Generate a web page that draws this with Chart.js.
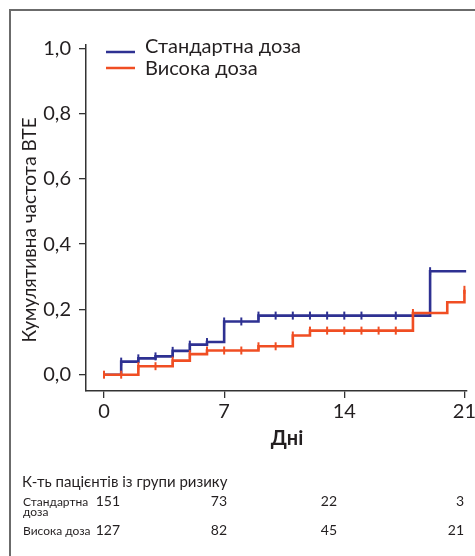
<!DOCTYPE html>
<html>
<head>
<meta charset="utf-8">
<script src="https://cdn.jsdelivr.net/npm/chart.js@4.4.1/dist/chart.umd.min.js"></script>
<style>
  html, body { margin: 0; padding: 0; background: #fff; }
  #wrap { position: relative; width: 475px; height: 556px; }
  #frame { position: absolute; left: 9px; top: 9px; right: 0; bottom: 0;
           border-top: 2px solid #6b6b6b; border-left: 2px solid #6b6b6b; }
  canvas { position: absolute; left: 0; top: 0; }
</style>
</head>
<body>
<div id="wrap">
  <div id="frame"></div>
  <canvas id="km" width="475" height="556"></canvas>
</div>
<script>
// ===== Data =====
const xTicks = [0, 7, 14, 21];
const yTicks = [0, 0.2, 0.4, 0.6, 0.8, 1.0];

// Стандартна доза: step times (days) and cumulative frequency after each step
const stdTimes  = [0, 1, 2, 3, 4, 5, 6, 7, 9, 19, 21.1];
const stdValues = [0, 0.04, 0.05, 0.056, 0.073, 0.092, 0.10, 0.163, 0.181, 0.317, 0.317];
const stdCensor = [1, 2, 3, 4, 5, 6, 7, 8, 9, 10, 11, 12, 13, 14, 15, 17, 19];

// Висока доза
const highTimes  = [0, 2, 4, 5, 6, 9, 11, 12, 18, 20, 21];
const highValues = [0, 0.026, 0.043, 0.063, 0.074, 0.087, 0.12, 0.135, 0.189, 0.222, 0.26];
const highCensor = [0, 1, 2, 3, 4, 5, 6, 7, 8, 9, 10, 11, 12, 13, 14, 15, 16, 17, 18, 21];

// Number at risk
const riskDays  = [0, 7, 14, 21];
const riskStd   = [151, 73, 22, 3];
const riskHigh  = [127, 82, 45, 21];

const seriesLabels = ['Стандартна доза', 'Висока доза'];
const BLUE = '#2e3192';
const RED = '#f04e23';
const FONT = 'Lato, "DejaVu Sans", sans-serif';
const TEXT = '#231f20';

// value of the step curve at time t (no interpolation, just the last step)
function stepValue(times, values, t) {
    let v = values[0];
    for (let i = 0; i < times.length; i++) {
        if (times[i] <= t) v = values[i];
    }
    return v;
}

function toPoints(times, values) {
    return times.map((t, i) => ({ x: t, y: values[i] }));
}

function censorPoints(censor, times, values) {
    return censor.map(t => ({ x: t, y: stepValue(times, values, t) }));
}

function fmt(v) {
    return v.toFixed(1).replace('.', ',');
}

// ===== Extra drawing: titles, legend, risk table =====
const decorPlugin = {
    id: 'decor',
    afterDraw(chart) {
        const ctx = chart.ctx;
        ctx.save();
        ctx.fillStyle = TEXT;

        // y axis title
        ctx.save();
        ctx.translate(30, 230);
        ctx.rotate(-Math.PI / 2);
        ctx.font = '19px ' + FONT;
        ctx.textAlign = 'center';
        ctx.textBaseline = 'middle';
        ctx.fillText('Кумулятивна частота ВТЕ', 0, 0);
        ctx.restore();

        // x axis title
        ctx.font = 'bold 20px ' + FONT;
        ctx.textAlign = 'center';
        ctx.textBaseline = 'alphabetic';
        ctx.fillText('Дні', 287, 445);

        // legend
        const legendColors = [BLUE, RED];
        const legendY = [52, 68];
        const legendBase = [53, 75];
        ctx.font = '20px ' + FONT;
        ctx.textAlign = 'left';
        seriesLabels.forEach((lab, i) => {
            ctx.strokeStyle = legendColors[i];
            ctx.lineWidth = 2.5;
            ctx.beginPath();
            ctx.moveTo(106, legendY[i]);
            ctx.lineTo(135, legendY[i]);
            ctx.stroke();
            ctx.fillStyle = TEXT;
            ctx.fillText(lab, 145, legendBase[i]);
        });

        // risk table
        ctx.font = '15px ' + FONT;
        ctx.fillText('К-ть пацієнтів із групи ризику', 22, 487);
        ctx.font = '12px ' + FONT;
        ctx.fillText('Стандартна', 23, 506);
        ctx.fillText('доза', 23, 516);
        ctx.fillText('Висока доза', 23, 535);

        const colRight = [120, 227, 337, 464];
        ctx.font = '14px ' + FONT;
        ctx.textAlign = 'right';
        riskDays.forEach((d, i) => {
            ctx.fillText(String(riskStd[i]), colRight[i], 506);
            ctx.fillText(String(riskHigh[i]), colRight[i], 535);
        });
        ctx.restore();
    }
};

const ctx = document.getElementById('km');

new Chart(ctx, {
    type: 'line',
    data: {
        datasets: [
            {
                label: seriesLabels[0],
                data: toPoints(stdTimes, stdValues),
                borderColor: BLUE,
                borderWidth: 2.6,
                stepped: true,
                pointRadius: 0,
                fill: false,
                order: 4
            },
            {
                label: seriesLabels[1],
                data: toPoints(highTimes, highValues),
                borderColor: RED,
                borderWidth: 2.6,
                stepped: true,
                pointRadius: 0,
                fill: false,
                order: 3
            },
            {
                label: 'censor std',
                data: censorPoints(stdCensor, stdTimes, stdValues),
                showLine: false,
                pointStyle: 'line',
                rotation: 90,
                pointRadius: 4,
                borderColor: BLUE,
                backgroundColor: BLUE,
                pointBorderWidth: 2,
                order: 2
            },
            {
                label: 'censor high',
                data: censorPoints(highCensor, highTimes, highValues),
                showLine: false,
                pointStyle: 'line',
                rotation: 90,
                pointRadius: 4,
                borderColor: RED,
                backgroundColor: RED,
                pointBorderWidth: 2,
                order: 1
            }
        ]
    },
    options: {
        responsive: false,
        animation: false,
        layout: { padding: { left: 0, top: 45, right: 8, bottom: 115 } },
        plugins: {
            legend: { display: false },
            tooltip: { enabled: false }
        },
        scales: {
            x: {
                type: 'linear',
                min: -1.05,
                max: 21.15,
                afterBuildTicks: s => { s.ticks = xTicks.map(v => ({ value: v })); },
                afterFit: s => { s.height = 50; s.paddingLeft = 0; s.paddingRight = 0; },
                grid: { display: true, drawOnChartArea: false, drawTicks: true, tickLength: 7, color: '#333', lineWidth: 1.3 },
                border: { display: true, color: '#333', width: 1.5 },
                ticks: {
                    font: { family: FONT, size: 20 },
                    color: TEXT,
                    padding: 2,
                    maxRotation: 0,
                    autoSkip: false
                }
            },
            y: {
                type: 'linear',
                min: -0.05,
                max: 1.01,
                afterBuildTicks: s => { s.ticks = yTicks.map(v => ({ value: v })); },
                afterFit: s => { s.width = 86; s.paddingTop = 0; s.paddingBottom = 0; },
                grid: { display: true, drawOnChartArea: false, drawTicks: true, tickLength: 7, color: '#333', lineWidth: 1.3 },
                border: { display: true, color: '#333', width: 1.5 },
                ticks: {
                    font: { family: FONT, size: 20 },
                    color: TEXT,
                    padding: 8,
                    callback: v => fmt(v)
                }
            }
        }
    },
    plugins: [decorPlugin]
});
</script>
</body>
</html>
